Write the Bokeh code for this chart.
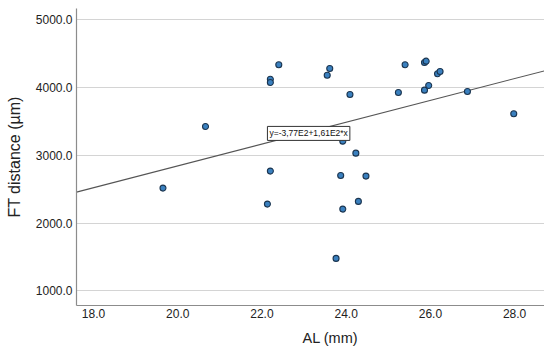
from bokeh.plotting import figure
from bokeh.models import Range1d, FixedTicker, PrintfTickFormatter, Label, Title
from bokeh.embed import file_html
from bokeh.resources import INLINE

# Data
al_mm = [19.65, 20.66, 22.13, 22.20, 22.20, 22.20, 22.40, 23.55, 23.61, 23.76,
         23.87, 23.92, 23.92, 24.09, 24.23, 24.29, 24.47, 25.24, 25.40, 25.86,
         25.86, 25.90, 25.96, 26.17, 26.23, 26.88, 27.98]
ft_um = [2515, 3425, 2279, 4122, 4074, 2766, 4335, 4181, 4280, 1478,
         2702, 2205, 3208, 3897, 3031, 2319, 2692, 3926, 4335, 4369,
         3960, 4388, 4029, 4202, 4236, 3941, 3612]
fit_intercept = -377.0
fit_slope = 161.0
x_ticks = [18, 20, 22, 24, 26, 28]
y_ticks = [1000, 2000, 3000, 4000, 5000]
eq_text = "y=-3,77E2+1,61E2*x"

x0, x1 = 17.596, 28.71
y0, y1 = 783.0, 5165.0

FONT = "Liberation Sans"
TXT = "#222222"

p = figure(width=544, height=354, output_backend="svg", toolbar_location=None,
           x_range=Range1d(x0, x1), y_range=Range1d(y0, y1),
           min_border_left=76, min_border_right=0, min_border_top=8,
           min_border_bottom=49)
p.outline_line_color = None
p.background_fill_color = "white"
p.border_fill_color = "white"

p.xgrid.visible = False
p.ygrid.grid_line_color = "#d4d4d4"
p.ygrid.grid_line_width = 1.2
p.ygrid.ticker = FixedTicker(ticks=y_ticks)

for ax in (p.xaxis[0], p.yaxis[0]):
    ax.axis_line_color = "#8c8c8c"
    ax.axis_line_width = 1.2
    ax.major_tick_line_color = None
    ax.minor_tick_line_color = None
    ax.major_tick_out = 0
    ax.major_tick_in = 0
    ax.major_label_text_font = FONT
    ax.major_label_text_font_size = "12px"
    ax.major_label_text_color = TXT
    ax.axis_label_text_font = FONT
    ax.axis_label_text_font_style = "normal"
    ax.axis_label_text_color = TXT
    ax.formatter = PrintfTickFormatter(format="%.1f")

p.xaxis.ticker = FixedTicker(ticks=x_ticks)
p.yaxis.ticker = FixedTicker(ticks=y_ticks)
p.xaxis.major_label_standoff = 3
p.yaxis.major_label_standoff = 4

p.yaxis.axis_label = "FT distance (µm)"
p.yaxis.axis_label_text_font_size = "16px"
p.yaxis.axis_label_standoff = 10

# x axis label, right of centre as in the reference
p.add_layout(Title(text="AL (mm)", align="left", offset=226,
                   text_font=FONT, text_font_size="14.5px",
                   text_font_style="normal", text_color=TXT,
                   standoff=15), "below")

# regression line
fx = [x0, x1]
fy = [fit_intercept + fit_slope * v for v in fx]
p.line(fx, fy, line_color="#555555", line_width=1.1)

p.scatter(al_mm, ft_um, size=6, fill_color="#3a80bf", line_color="#1b3550",
          line_width=1.1)

p.add_layout(Label(x=22.13, y=3322, text=eq_text, text_align="left",
                   text_baseline="middle", text_font=FONT,
                   text_font_size="8.5px", text_color="#111111",
                   background_fill_color="white", border_line_color="#333333",
                   border_line_width=1, padding=2))

open("out.html", "w").write(file_html(p, INLINE))
